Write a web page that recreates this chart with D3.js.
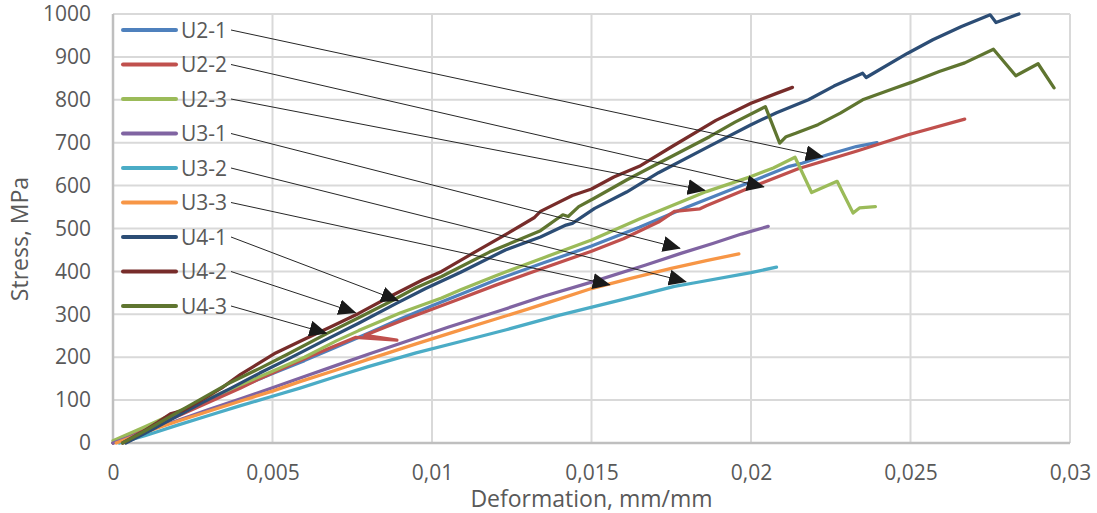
<!DOCTYPE html>
<html>
<head>
<meta charset="utf-8">
<script src="https://cdn.jsdelivr.net/npm/d3@7"></script>
<style>
  body { margin: 0; background: #ffffff; }
  text { font-family: 'Open Sans', sans-serif; fill: #595959; }
  .grid line { stroke: #d9d9d9; stroke-width: 2; }
  .axisLine { stroke: #bfbfbf; stroke-width: 2.5; }
  .series { fill: none; stroke-width: 3.25; stroke-linecap: round; stroke-linejoin: round; }
  .leader { stroke: #262626; stroke-width: 1; fill: none; }
</style>
</head>
<body>
<div id="graph"></div>
<script>

// 
// Data
// 
var seriesNames = ['U2-1', 'U2-2', 'U2-3', 'U3-1', 'U3-2', 'U3-3', 'U4-1', 'U4-2', 'U4-3'];

var U2_1 = [[0,0],[0.001,33],[0.002,66],[0.003,99],[0.004,131],[0.005,162],[0.006,192],[0.007,224],[0.008,256],
            [0.009,289],[0.010,320],[0.0109,347],[0.012,380],[0.0135,420],[0.015,459],[0.0165,503],[0.018,550],
            [0.020,609],[0.0212,645],[0.0216,652],[0.0224,672],[0.0233,691],[0.02395,700]];

var U2_2 = [[0,0],[0.001,30],[0.002,62],[0.003,95],[0.004,128],[0.0046,150],[0.0055,180],[0.0065,212],[0.0076,246],
            [0.0089,240],[0.0079,251],[0.009,284],[0.010,312],[0.0109,337],[0.012,368],[0.0135,408],[0.015,447],
            [0.016,476],[0.0171,515],[0.0176,540],[0.0184,546],[0.0186,553],[0.020,596],[0.0215,640],[0.0233,680],
            [0.0249,718],[0.0267,755]];

var U2_3 = [[0,5],[0.001,38],[0.002,72],[0.003,104],[0.004,136],[0.005,167],[0.006,200],[0.007,238],[0.0077,262],
            [0.009,303],[0.0103,338],[0.0109,357],[0.012,390],[0.0135,432],[0.015,473],[0.0165,522],[0.0178,562],
            [0.0186,586],[0.020,621],[0.0207,641],[0.02138,666],[0.0219,584],[0.0227,610],[0.0232,536],[0.0234,548],
            [0.0239,551]];

var U3_1 = [[0,0],[0.001,27],[0.002,52],[0.003,78],[0.004,103],[0.005,129],[0.006,155],[0.007,181],[0.008,207],
            [0.009,232],[0.0105,270],[0.0122,310],[0.0135,342],[0.015,375],[0.0167,415],[0.0178,442],[0.0188,465],
            [0.0197,487],[0.02054,505]];

var U3_2 = [[0.0002,0],[0.001,17],[0.002,41],[0.003,64],[0.004,87],[0.005,109],[0.00586,128],[0.007,155],
            [0.008,178],[0.0095,210],[0.01087,236],[0.01233,264],[0.014,298],[0.0159,333],[0.0176,365],[0.0182,373],
            [0.020,397],[0.0208,410]];

var U3_3 = [[0.0001,0],[0.001,25],[0.002,50],[0.003,74],[0.004,98],[0.005,121],[0.00586,143],[0.007,170],
            [0.008,195],[0.0095,231],[0.01087,263],[0.012,289],[0.013,312],[0.014,336],[0.015,360],[0.0162,383],
            [0.0175,407],[0.0186,425],[0.01962,441]];

var U4_1 = [[0.0004,0],[0.0012,30],[0.002,62],[0.0028,94],[0.0037,128],[0.0046,163],[0.0055,196],[0.0066,238],
            [0.0077,279],[0.0089,326],[0.0098,360],[0.0109,398],[0.0123,450],[0.0134,480],[0.0142,508],[0.0144,512],
            [0.0151,547],[0.0161,585],[0.0171,630],[0.0187,692],[0.020,742],[0.0208,770],[0.0218,800],[0.0226,832],
            [0.0235,862],[0.02361,852],[0.0249,908],[0.0257,940],[0.0266,971],[0.0275,998],[0.02768,980],[0.0284,1000]];

var U4_2 = [[0.0003,0],[0.0009,25],[0.0014,48],[0.0018,68],[0.0022,76],[0.0027,97],[0.0034,128],[0.004,160],
            [0.0044,178],[0.0051,210],[0.006,242],[0.0068,270],[0.0077,302],[0.0087,342],[0.0097,380],[0.0103,400],
            [0.0113,443],[0.0124,490],[0.0132,525],[0.0134,540],[0.0144,577],[0.015,592],[0.0157,620],[0.0165,645],
            [0.0175,690],[0.0189,752],[0.020,792],[0.0208,815],[0.0213,829]];

var U4_3 = [[0.0003,0],[0.001,28],[0.0018,62],[0.0027,100],[0.0036,138],[0.0046,174],[0.0055,208],[0.0067,255],
            [0.0077,292],[0.0087,330],[0.0095,362],[0.0103,388],[0.0118,445],[0.0134,495],[0.0141,532],[0.01427,528],
            [0.0146,551],[0.0151,571],[0.0161,613],[0.0171,652],[0.0187,714],[0.0195,748],[0.02045,784],[0.0209,699],
            [0.0211,714],[0.0214,722],[0.0221,742],[0.0228,769],[0.0235,800],[0.0245,827],[0.025,840],[0.0259,866],
            [0.0267,886],[0.0276,918],[0.0283,856],[0.029,884],[0.0295,828]];

// the point each legend label's arrow lands on (same order as seriesNames)
var arrowTargets = [[0.02225,667],[0.0204,597],[0.01855,589],[0.01777,454],[0.01796,376],
                    [0.01557,369],[0.00894,332],[0.0076,304],[0.00669,256]];

var xTicks = [0, 0.005, 0.01, 0.015, 0.02, 0.025, 0.03];
var yTicks = [0, 100, 200, 300, 400, 500, 600, 700, 800, 900, 1000];

var seriesData   = [U2_1, U2_2, U2_3, U3_1, U3_2, U3_3, U4_1, U4_2, U4_3];
var seriesColors = ['#4f81bd', '#c0504d', '#9bbb59', '#8064a2', '#4bacc6', '#f79646', '#2c4d75', '#772c2a', '#5f7530'];


//
// D3 Stuff...
//
var margin = { top: 14, right: 27, bottom: 70, left: 113 };
var width  = 1097 - margin.left - margin.right;
var height = 513  - margin.top  - margin.bottom;

var xScale = d3.scaleLinear ()
               .domain ([0, 0.03])
               .range ([0, width]);

var yScale = d3.scaleLinear ()
               .domain ([0, 1000])
               .range ([height, 0]);

var line = d3.line ()
             .x (function(d) { return xScale (d[0]); })
             .y (function(d) { return yScale (d[1]); });

var svg = d3.select ('div#graph')
            .append ('svg')
            .attr ('width', 1097)
            .attr ('height', 513)
            .append ('g')
            .attr ('transform', 'translate(' + margin.left + ',' + margin.top + ')');

// arrow head
svg.append ('defs')
   .append ('marker')
   .attr ('id', 'arrow')
   .attr ('markerUnits', 'userSpaceOnUse')
   .attr ('viewBox', '0 0 18 16')
   .attr ('markerWidth', 18)
   .attr ('markerHeight', 16)
   .attr ('refX', 17)
   .attr ('refY', 8)
   .attr ('orient', 'auto')
   .append ('path')
   .attr ('d', 'M0,0 L18,8 L0,16 Z')
   .attr ('fill', '#1a1a1a');

// gridlines
var grid = svg.append ('g').attr ('class', 'grid');

grid.selectAll ('line.h')
    .data (yTicks.slice (1))
    .enter ().append ('line')
    .attr ('class', 'h')
    .attr ('x1', 0).attr ('x2', width)
    .attr ('y1', d => yScale (d)).attr ('y2', d => yScale (d));

grid.selectAll ('line.v')
    .data (xTicks.slice (1))
    .enter ().append ('line')
    .attr ('class', 'v')
    .attr ('y1', 0).attr ('y2', height)
    .attr ('x1', d => xScale (d)).attr ('x2', d => xScale (d));

// axes
var xAxis = d3.axisBottom (xScale)
              .tickValues (xTicks)
              .tickSize (0)
              .tickPadding (22)
              .tickFormat (d => String (d).replace ('.', ','));

var yAxis = d3.axisLeft (yScale)
              .tickValues (yTicks)
              .tickSize (0)
              .tickPadding (22)
              .tickFormat (d3.format ('d'));

var gx = svg.append ('g')
            .attr ('transform', 'translate(0,' + height + ')')
            .call (xAxis);

var gy = svg.append ('g')
            .call (yAxis);

[gx, gy].forEach (function (g)
{
    g.select ('.domain').remove ();
    g.selectAll ('text')
     .style ('font-family', "'Open Sans', sans-serif")
     .style ('font-size', '21px')
     .attr ('fill', '#595959');
});

svg.append ('line')
   .attr ('class', 'axisLine')
   .attr ('x1', 0).attr ('x2', 0)
   .attr ('y1', 0).attr ('y2', height);

svg.append ('line')
   .attr ('class', 'axisLine')
   .attr ('x1', 0).attr ('x2', width)
   .attr ('y1', height).attr ('y2', height);

// axis titles
svg.append ('text')
   .style ('text-anchor', 'middle')
   .style ('font-size', '23px')
   .attr ('x', width / 2)
   .attr ('y', height + 64)
   .text ('Deformation, mm/mm');

svg.append ('text')
   .style ('text-anchor', 'middle')
   .style ('font-size', '23px')
   .attr ('transform', 'rotate(-90)')
   .attr ('x', -(239 - margin.top))
   .attr ('y', 28 - margin.left)
   .text ('Stress, MPa');

// series
svg.selectAll ('path.series')
   .data (seriesData)
   .enter ().append ('path')
   .attr ('class', 'series')
   .attr ('stroke', (d, i) => seriesColors[i])
   .attr ('d', line);

// legend (no box, sits over the plot)
var legendX  = 10;
var legendY0 = 16;
var legendDy = 34.5;

var legend = svg.selectAll ('g.legend')
                .data (seriesNames)
                .enter ().append ('g')
                .attr ('class', 'legend')
                .attr ('transform', (d, i) => 'translate(' + legendX + ',' + (legendY0 + i * legendDy) + ')');

legend.append ('line')
      .attr ('x1', 0).attr ('x2', 53)
      .attr ('y1', 0).attr ('y2', 0)
      .attr ('stroke', (d, i) => seriesColors[i])
      .attr ('stroke-width', 4)
      .attr ('stroke-linecap', 'round');

legend.append ('text')
      .attr ('x', 58)
      .attr ('y', 0)
      .attr ('dy', '0.36em')
      .style ('font-size', '21px')
      .text (d => d);

// leader lines with arrow heads
svg.selectAll ('line.leader')
   .data (arrowTargets)
   .enter ().append ('line')
   .attr ('class', 'leader')
   .attr ('x1', legendX + 108)
   .attr ('y1', (d, i) => legendY0 + i * legendDy)
   .attr ('x2', d => xScale (d[0]))
   .attr ('y2', d => yScale (d[1]))
   .attr ('marker-end', 'url(#arrow)');

</script>
</body>
</html>
